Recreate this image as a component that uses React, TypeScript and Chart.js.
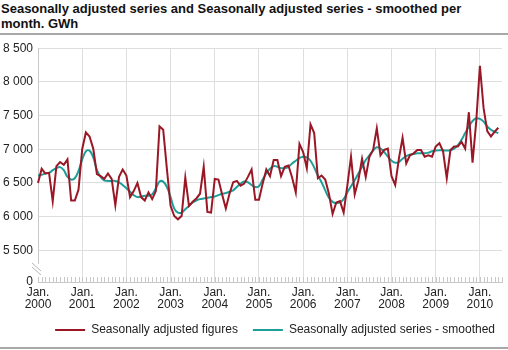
import React, { useEffect, useRef } from 'react';
import { Chart, registerables } from 'chart.js';

Chart.register(...registerables);

const years = ['2000', '2001', '2002', '2003', '2004', '2005', '2006', '2007', '2008', '2009', '2010'];
const months = ['01', '02', '03', '04', '05', '06', '07', '08', '09', '10', '11', '12'];
// Jan 2000 .. Jul 2010 (axis runs one month past the last observation)
const labels: string[] = [];
years.forEach((y) => months.forEach((m) => labels.push(`${y}-${m}`)));
labels.splice(127);

const adjusted = [
  6500, 6710, 6640, 6650, 6230, 6750, 6810, 6770, 6850, 6240, 6240, 6400,
  7000, 7250, 7190, 7010, 6630, 6600, 6560, 6640, 6560, 6170, 6590, 6700,
  6610, 6290, 6380, 6500, 6290, 6240, 6360, 6260, 6380, 7340, 7290, 6710,
  6160, 6010, 5960, 6010, 6580, 6160, 6220, 6270, 6340, 6740, 6070, 6060,
  6560, 6550, 6330, 6120, 6340, 6510, 6530, 6460, 6490, 6590, 6700, 6250,
  6250, 6490, 6700, 6600, 6840, 6840, 6600, 6740, 6760, 6580, 6360, 7080,
  6960, 6720, 7370, 7240, 6570, 6610, 6550, 6340, 6040, 6210, 6230, 6060,
  6460, 6890, 6330, 6540, 6860, 6590, 6890, 6990, 7310, 6910, 6990, 7010,
  6600, 6470, 6860, 7170, 6790, 6910, 6940, 6990, 6990, 6890, 6910, 6890,
  7040, 7090, 6970, 6570, 6990, 7040, 7040, 7110, 7010, 7550, 6800, 7410,
  8240, 7610, 7270, 7190, 7260, 7320,
];

const smoothed = [
  6610, 6620, 6640, 6650, 6690, 6720, 6735, 6690, 6590, 6550, 6570, 6680,
  6850, 6970, 6980, 6880, 6690, 6590, 6540, 6530, 6530, 6530, 6510, 6470,
  6420, 6370, 6320, 6290, 6300, 6310, 6310, 6330, 6420, 6520, 6520, 6440,
  6290, 6120, 6060, 6060, 6110, 6160, 6210, 6240, 6260, 6270, 6280, 6290,
  6300, 6320, 6340, 6350, 6370, 6390, 6440, 6490, 6520, 6510, 6470, 6440,
  6450, 6550, 6640, 6710, 6750, 6740, 6720, 6720, 6740, 6790, 6830, 6870,
  6890, 6880, 6830, 6730, 6610, 6510, 6390, 6280, 6220, 6200, 6210, 6260,
  6360, 6450, 6540, 6640, 6740, 6840, 6910, 6980, 7030, 7010, 6960, 6890,
  6830, 6800, 6810, 6860, 6900, 6920, 6930, 6940, 6940, 6940, 6950, 6970,
  6980, 6985, 6985, 6980, 6985, 7010, 7060, 7140, 7240, 7340, 7420, 7460,
  7450, 7410, 7340, 7290, 7260, 7240,
];

const yBreakValue = 5030; // bottom of the broken axis, labelled "0"
const yTicks = [yBreakValue, 5500, 6000, 6500, 7000, 7500, 8000, 8500];

const RED = '#9a1726';
const TEAL = '#1e9e98';
const GRID = '#dedede';
const AXIS = '#c8c8c8';
const FONT = '"Liberation Sans", Arial, sans-serif';

const fmt = (v: number) => (v === yBreakValue ? '0' : String(v).replace(/\B(?=(\d{3})+(?!\d))/g, ' '));

const axisDecor = {
  id: 'axisDecor',
  afterLayout(chart: any) {
    if (chart.legend) {
      chart.legend.right += 8;
    }
  },
  afterDraw(chart: any) {
    const { ctx, chartArea, scales } = chart;
    const { left, bottom } = chartArea;
    const x = scales.x;
    ctx.save();
    ctx.strokeStyle = AXIS;
    ctx.lineWidth = 1;
    ctx.beginPath();
    for (let i = 0; i < labels.length; i++) {
      const px = Math.round(x.getPixelForValue(i)) + 0.5;
      ctx.moveTo(px, bottom - 5);
      ctx.lineTo(px, bottom);
    }
    ctx.stroke();
    // axis break
    ctx.fillStyle = '#ffffff';
    ctx.fillRect(left - 2, bottom - 18, 4, 13);
    ctx.strokeStyle = '#b5b5b5';
    ctx.beginPath();
    ctx.moveTo(left - 6, bottom - 19);
    ctx.lineTo(left + 3, bottom - 11);
    ctx.moveTo(left - 6, bottom - 15);
    ctx.lineTo(left + 3, bottom - 7);
    ctx.stroke();
    ctx.restore();
  },
};

export default function App() {
  const ref = useRef<HTMLCanvasElement | null>(null);

  useEffect(() => {
    if (!ref.current) return;
    const chart = new Chart(ref.current, {
      type: 'line',
      data: {
        labels,
        datasets: [
          {
            label: 'Seasonally adjusted figures',
            data: adjusted,
            borderColor: RED,
            backgroundColor: RED,
            borderWidth: 2,
            pointRadius: 0,
            tension: 0,
          },
          {
            label: 'Seasonally adjusted series - smoothed',
            data: smoothed,
            borderColor: TEAL,
            backgroundColor: TEAL,
            borderWidth: 2,
            pointRadius: 0,
            tension: 0.4,
          },
        ],
      },
      options: {
        animation: false,
        responsive: false,
        maintainAspectRatio: false,
        layout: { padding: { top: 11, right: 6, left: 0, bottom: 0 } },
        plugins: {
          title: { display: false },
          tooltip: { enabled: false },
          legend: {
            position: 'bottom',
            align: 'end',
            labels: {
              usePointStyle: true,
              pointStyle: 'line',
              pointStyleWidth: 30,
              boxHeight: 12,
              padding: 15,
              color: '#222',
              font: { family: FONT, size: 12 },
            },
          },
        },
        scales: {
          x: {
            type: 'category',
            offset: false,
            afterFit: (s: any) => {
              s.height = s.height - 7;
            },
            grid: {
              drawTicks: false,
              color: (c: any) => (c.index % 12 === 0 ? GRID : 'transparent'),
              lineWidth: 1,
            },
            border: { display: true, color: AXIS },
            ticks: {
              autoSkip: false,
              maxRotation: 0,
              minRotation: 0,
              padding: 5,
              color: '#222',
              font: { family: FONT, size: 12, lineHeight: 1.0 },
              callback: (_v: any, i: number) => {
                const lab = labels[i];
                return lab && lab.endsWith('-01') ? ['Jan.', lab.slice(0, 4)] : '';
              },
            },
          },
          y: {
            min: yBreakValue,
            max: 8500,
            afterBuildTicks: (s: any) => {
              s.ticks = yTicks.map((v) => ({ value: v }));
            },
            afterFit: (s: any) => {
              s.width = 38;
            },
            grid: {
              drawTicks: false,
              color: (c: any) => (c.tick && c.tick.value === yBreakValue ? 'transparent' : GRID),
            },
            border: { display: true, color: AXIS },
            ticks: {
              padding: 5,
              color: '#222',
              font: { family: FONT, size: 12 },
              callback: (v: any) => fmt(Number(v)),
            },
          },
        },
      },
      plugins: [axisDecor],
    });
    return () => chart.destroy();
  }, []);

  return (
    <div style={{ position: 'absolute', left: 0, top: 0, width: 508, height: 350, background: '#fff', fontFamily: FONT }}>
      <div
        style={{
          position: 'absolute',
          left: 1,
          top: 1,
          fontWeight: 'bold',
          fontSize: 13,
          lineHeight: '15px',
          color: '#111',
          whiteSpace: 'nowrap',
        }}
      >
        Seasonally adjusted series and Seasonally adjusted series - smoothed per
        <br />
        month. GWh
      </div>
      <div style={{ position: 'absolute', left: 0, top: 33, width: 508, height: 2, background: '#a8a8a8' }} />
      <canvas ref={ref} width={508} height={310} style={{ position: 'absolute', left: 0, top: 36, width: 508, height: 310 }} />
      <div style={{ position: 'absolute', left: 0, top: 347, width: 508, height: 2, background: '#a8a8a8' }} />
    </div>
  );
}
